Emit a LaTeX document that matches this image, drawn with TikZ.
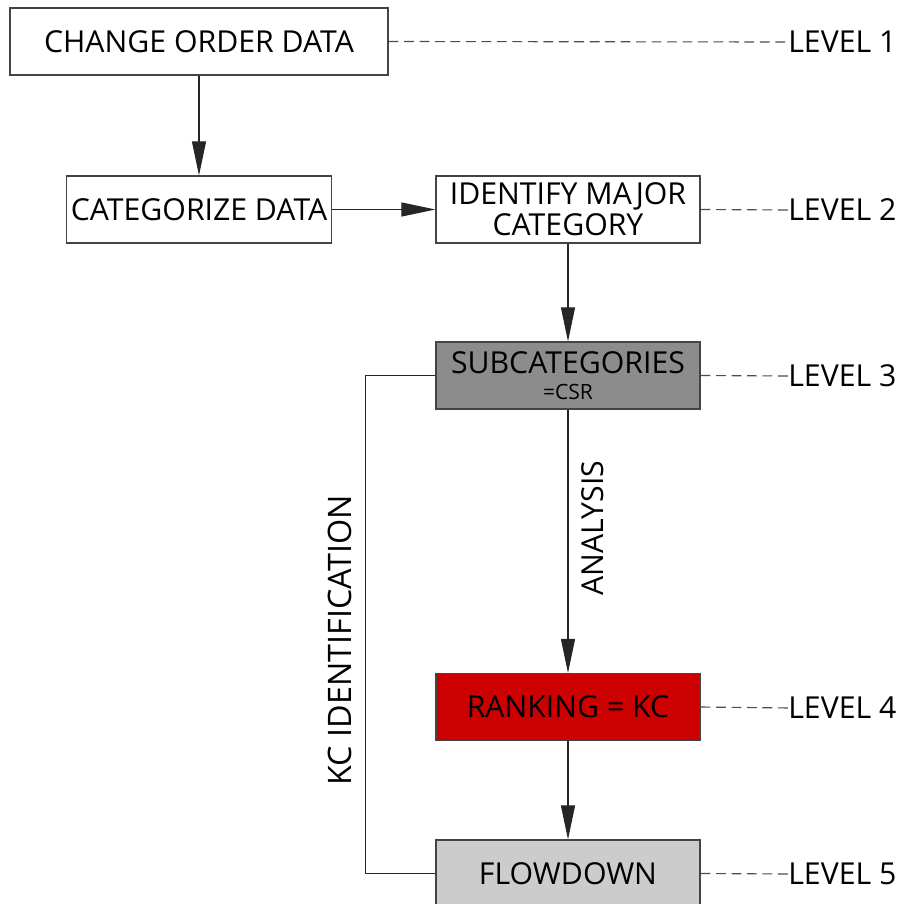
\documentclass[tikz,border=0pt]{standalone}
\usepackage{xcolor}
\usepackage{fontspec}
\usepackage{tikz}
\usetikzlibrary{arrows.meta}
\setmainfont{Open Sans}
\definecolor{boxline}{HTML}{444444}
\definecolor{darkgrey}{HTML}{8C8C8C}
\definecolor{lightgrey}{HTML}{CCCCCC}
\definecolor{rankred}{HTML}{CC0000}

\tikzset{
	block/.style={draw=boxline, line width=0.8pt, minimum width=6.6cm, minimum height=1.675cm, align=center, font=\fontsize{21.5}{22}\selectfont},
	flow/.style={draw=black!85, line width=0.8pt, -{Triangle[length=0.85cm, width=0.35cm]}},
	link/.style={draw=black!85, line width=0.8pt},
	levelline/.style={draw=black!70, line width=0.8pt, dash pattern=on 7pt off 4pt},
	levellabel/.style={anchor=west, inner sep=0pt, font=\fontsize{21.5}{24}\selectfont}
}

\begin{document}
\begin{tikzpicture}[x=0.025cm, y=-0.025cm]
\useasboundingbox (0,0) rectangle (902,904);
\node[block, minimum width=9.45cm] (cod) at (199,41.5) {CHANGE ORDER DATA};
\node[block] (cat) at (199,209.5) {CATEGORIZE DATA};
\node[block] (imc) at (568,209.5) {IDENTIFY MAJOR\\CATEGORY};
\node[block, fill=darkgrey, inner sep=1pt] (sub) at (568,375.5) {SUBCATEGORIES\\[-3pt]{\fontsize{15}{16}\selectfont =CSR}};
\node[block, fill=rankred] (rank) at (568,707) {RANKING = KC};
\node[block, fill=lightgrey] (fd) at (568,873.5) {FLOWDOWN};

\node[levellabel] (lv1) at (788,42) {LEVEL 1};
\node[levellabel] (lv2) at (788,210) {LEVEL 2};
\node[levellabel] (lv3) at (788,376) {LEVEL 3};
\node[levellabel] (lv4) at (788,708) {LEVEL 4};
\node[levellabel] (lv5) at (788,874) {LEVEL 5};

\draw[flow] (cod) -- (cat);
\draw[flow] (cat) -- (imc);
\draw[flow] (imc) -- (sub);
\draw[flow] (sub) -- (rank);
\draw[flow] (rank) -- (fd);
\node[rotate=90, font=\fontsize{21.5}{23}\selectfont] (ana) at (593,528) {ANALYSIS};
\draw[link] (sub.west) -- ++(-70,0) coordinate (kc) |- (fd.west);
\node[rotate=90, font=\fontsize{23}{25}\selectfont] (kcid) at (340,640) {KC IDENTIFICATION};

\draw[levelline] (cod.east) -- ([xshift=2pt]lv1.west);
\draw[levelline] (imc.east) -- ([xshift=2pt]lv2.west);
\draw[levelline] (sub.east) -- ([xshift=2pt]lv3.west);
\draw[levelline] (rank.east) -- ([xshift=2pt]lv4.west);
\draw[levelline] (fd.east) -- ([xshift=2pt]lv5.west);
\end{tikzpicture}
\end{document}
